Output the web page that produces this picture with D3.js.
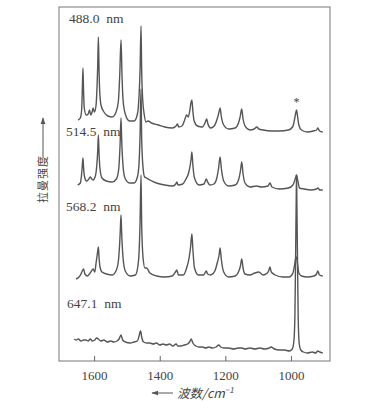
<!DOCTYPE html>
<html>
<head>
<meta charset="utf-8">
<script src="https://d3js.org/d3.v7.min.js"></script>
<style>
  body { margin: 0; background: #fff; }
  text { fill: #444; }
</style>
</head>
<body>
<svg width="390" height="409"></svg>
<script>
// spectra: [wavenumber cm-1, height above the frame bottom]
const laserLabels = ["488.0 nm", "514.5 nm", "568.2 nm", "647.1 nm"];
const xTicks = [1600, 1400, 1200, 1000];

const s488 = [[1649,241],[1642,243],[1638,251],[1636,270],[1634,293],[1632,268],[1630,253],[1624,246],[1618,247],[1614,251],[1610,246],[1606,249],[1603,253],[1599,249],
  [1594,256],[1591,275],[1589,295],[1587,324],[1585,292],[1583,270],[1579,256],[1570,249],[1558,245],[1545,244],[1533,249],[1526,260],[1522,285],[1518,321],[1515,286],[1512,262],[1505,247],
  [1492,240],[1478,240],[1468,247],[1463,265],[1460,290],[1457,335],[1455,290],[1452,262],[1447,246],[1442,239],[1436,240],[1425,238],[1405,236],[1385,234],[1362,233],[1350,235],[1346,237],[1342,234],
  [1332,235],[1324,241],[1318,246],[1313,244],[1308,251],[1305,258],[1302,261],[1299,250],[1295,240],[1285,235],[1270,234],[1262,238],[1257,242],[1253,237],[1245,233],[1234,235],[1225,242],[1220,248],[1216,253],
  [1212,244],[1205,236],[1190,232],[1170,233],[1160,238],[1155,244],[1150,252],[1146,242],[1140,235],[1125,231],[1112,232],[1104,234],[1098,232],[1085,231],[1060,230],[1035,230],[1008,231],
  [995,234],[990,240],[986,247],[983,251],[980,245],[976,236],[968,231],[950,229],[932,230],[922,231],[918,233],[913,230],[903,229]];

const s514 = [[1650,176],[1642,178],[1639,184],[1636,195],[1634,203],[1632,193],[1629,184],[1623,180],[1616,182],[1612,184],[1607,182],[1603,181],[1597,184],
  [1592,195],[1589,210],[1587,226],[1585,208],[1582,192],[1576,183],[1563,180],[1545,179],[1532,182],[1525,192],[1521,215],[1518,243],[1516,222],[1512,196],[1506,183],
  [1492,178],[1478,178],[1468,184],[1463,198],[1460,225],[1457,272],[1455,222],[1451,194],[1446,184],[1440,183],[1430,181],[1410,178],[1385,176],[1360,175],[1351,177],[1348,179],[1344,176],
  [1330,177],[1320,182],[1312,188],[1307,196],[1304,203],[1302,209],[1299,196],[1294,183],[1280,176],[1265,177],[1258,182],[1254,179],[1247,176],[1235,177],[1226,183],[1221,192],[1216,204],
  [1212,192],[1205,180],[1190,175],[1170,176],[1159,182],[1154,190],[1150,199],[1146,187],[1140,178],[1125,174],[1105,175],[1090,174],[1070,175],[1064,178],[1058,174],[1035,172],[1008,173],
  [994,176],[988,181],[983,186],[979,180],[974,173],[960,172],[940,171],[922,172],[918,173],[912,171],[903,171]];

const s568 = [[1655,82],[1646,84],[1640,87],[1636,90],[1632,92],[1628,87],[1620,85],[1612,88],[1606,91],[1603,92],[1598,89],[1594,98],[1591,105],[1589,110],[1587,114],[1585,104],[1582,94],[1576,89],[1562,87],
  [1545,86],[1532,91],[1526,100],[1522,118],[1520,132],[1518,146],[1516,128],[1512,104],[1505,90],[1490,85],[1474,86],[1467,94],[1463,108],[1460,138],[1457,186],[1455,136],[1451,104],[1445,93],
  [1440,93],[1430,88],[1410,85],[1385,84],[1362,85],[1352,89],[1348,91],[1343,86],[1328,86],[1318,93],[1310,104],[1306,114],[1302,127],[1299,112],[1294,93],[1282,86],[1266,86],[1258,90],
  [1254,87],[1245,86],[1232,90],[1224,99],[1219,106],[1216,113],[1212,101],[1205,89],[1190,84],[1170,85],[1160,89],[1154,95],[1150,102],[1146,93],[1140,87],[1125,86],[1110,88],[1098,89],
  [1085,86],[1072,88],[1067,91],[1064,94],[1060,89],[1048,86],[1025,84],[1005,84],[994,88],[989,96],[986,102],[983,104],[980,97],[976,88],[968,85],[950,84],[930,85],[922,87],
  [918,90],[913,86],[903,85]];

const s647 = [[1661,22],[1655,21],[1648,22],[1640,20],[1632,21],[1625,21],[1618,20],[1612,22],[1605,20],[1598,21],[1592,23],[1587,22],[1580,20],[1570,21],[1560,19],[1550,20],
  [1540,19],[1530,20],[1524,22],[1518,26],[1513,21],[1505,19],[1490,18],[1478,19],[1468,20],[1463,25],[1460,29],[1458,30],[1455,24],[1449,19],[1440,18],[1430,18],[1420,17],
  [1410,18],[1400,16],[1390,17],[1380,16],[1370,17],[1360,15],[1350,17],[1345,15],[1335,15],[1325,16],[1315,17],[1309,19],[1304,22],[1299,18],[1290,15],[1280,14],[1270,14],[1260,13],
  [1250,14],[1240,13],[1228,14],[1220,16],[1214,14],[1205,13],[1190,13],[1175,12],[1160,13],[1150,13],[1140,12],[1125,13],[1110,12],[1095,13],[1080,12],[1066,13],[1061,14],
  [1050,12],[1035,11],[1020,11],[1005,10],[996,12],[991,20],[988,45],[986,100],[984,160],[983,186],[982,160],[980,100],[978,45],[975,18],[970,11],[962,9],[950,8],[935,9],
  [925,8],[918,10],[912,9],[903,8]];

const spectra = [s488, s514, s568, s647];
const labelPos = [[69, 23], [66, 136], [66, 211], [67, 308]];

const svg = d3.select("svg");
const padL = 59, padR = 330, padT = 7, padB = 361;

var x = d3.scaleLinear().domain([1707, 881]).range([padL, padR]);
var y = d3.scaleLinear().domain([0, 354]).range([padB, padT]);

svg.append("defs").append("marker")
  .attr("id", "arr").attr("viewBox", "0 0 10 10").attr("refX", 9).attr("refY", 5)
  .attr("markerWidth", 7).attr("markerHeight", 7).attr("orient", "auto")
  .append("path").attr("d", "M0,1.5L10,5L0,8.5Z").attr("fill", "#555");

// frame
svg.append("rect").attr("x", padL).attr("y", padT)
  .attr("width", padR - padL).attr("height", padB - padT)
  .attr("fill", "none").attr("stroke", "#777").attr("stroke-width", 1);

// bottom axis, ticks pointing inwards
var ax = svg.append("g").attr("transform", "translate(0," + padB + ")")
  .call(d3.axisBottom(x).tickValues(xTicks).tickFormat(d3.format("d"))
    .tickSizeInner(-5).tickSizeOuter(0).tickPadding(10));
ax.select(".domain").remove();
ax.selectAll("line").attr("stroke", "#666");
ax.selectAll("text").attr("font-family", "Liberation Serif").attr("font-size", 13).attr("fill", "#444");

var line = d3.line().x(d => x(d[0])).y(d => y(d[1])).curve(d3.curveMonotoneX);

svg.append("g").selectAll("path")
  .data(spectra)
  .enter()
  .append("path")
    .attr("d", line)
    .attr("fill", "none")
    .attr("stroke", "#555")
    .attr("stroke-width", 1.4)
    .attr("stroke-linejoin", "round");

svg.append("g").selectAll("text")
  .data(laserLabels)
  .enter()
  .append("text")
    .attr("x", (d, i) => labelPos[i][0])
    .attr("y", (d, i) => labelPos[i][1])
    .attr("font-family", "Liberation Serif")
    .attr("font-size", 13.5)
    .attr("xml:space", "preserve")
    .text(d => d.replace(" ", "  "));

// asterisk over the reference band
svg.append("text").attr("x", x(983)).attr("y", 106)
  .attr("text-anchor", "middle").attr("font-family", "Liberation Serif").attr("font-size", 12)
  .text("*");

// x title
svg.append("line").attr("x1", 173).attr("x2", 152).attr("y1", 393).attr("y2", 393)
  .attr("stroke", "#555").attr("stroke-width", 1).attr("marker-end", "url(#arr)");
var xt = svg.append("text").attr("x", 177).attr("y", 398)
  .attr("font-family", "Noto Sans CJK SC").attr("font-size", 12.5).attr("font-style", "italic");
xt.append("tspan").text("波数/cm");
xt.append("tspan").attr("font-size", 8).attr("dy", -5).text("−1");

// y title
var yt = svg.append("g").attr("transform", "translate(47,0)");
yt.append("text").attr("transform", "translate(0,203) rotate(-90)")
  .attr("font-family", "Noto Sans CJK SC").attr("font-size", 11).attr("letter-spacing", 1)
  .text("拉曼强度");
yt.append("line").attr("x1", -4).attr("x2", -4).attr("y1", 158).attr("y2", 118)
  .attr("stroke", "#555").attr("stroke-width", 1).attr("marker-end", "url(#arr)");
</script>
</body>
</html>
